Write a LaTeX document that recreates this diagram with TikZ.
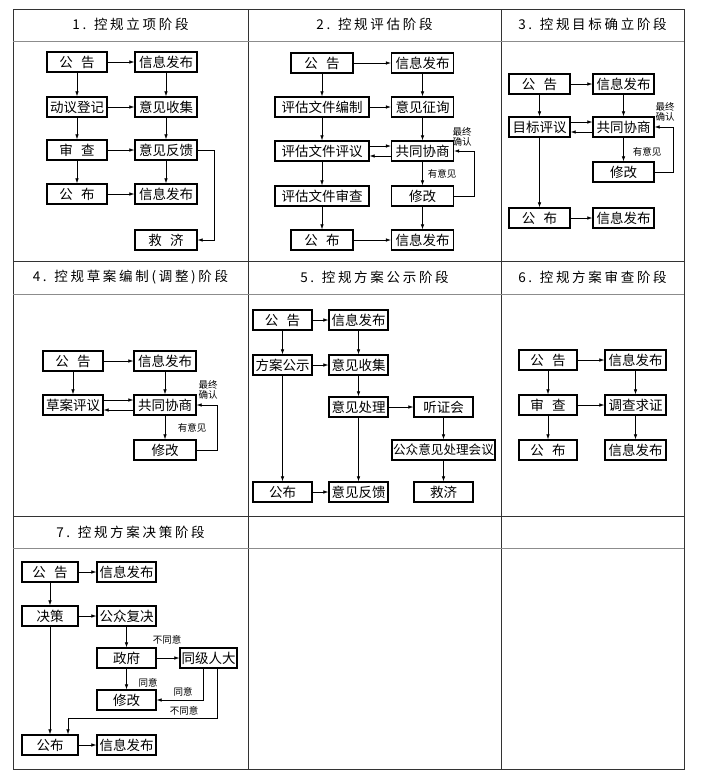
\documentclass[tikz,border=0pt]{standalone}
\usepackage{fontspec}
\setmainfont{Noto Sans CJK SC}
\newfontfamily\hdfont[LetterSpace=20]{Noto Sans CJK SC}
\usetikzlibrary{arrows.meta}
\begin{document}
\begin{tikzpicture}[x=1pt,y=-1pt,
 box/.style={draw=black, line width=1.3pt, minimum height=20pt, minimum width=61pt, inner sep=0pt, font=\fontsize{13.5}{15}\selectfont, fill=white},
 bw/.style={minimum width=#1},
 ar/.style={-{Latex[length=5pt,width=3.5pt]}, line width=0.6pt},
 lbl/.style={font=\fontsize{9.5}{10.5}\selectfont, inner sep=0pt, align=center},
 hd/.style={font=\hdfont\fontsize{13.5}{15}\selectfont},
 gridline/.style={line width=1pt, draw=black!80},
 sepline/.style={line width=0.6pt, draw=black!45}]
\useasboundingbox (0,0) rectangle (706,782);
% grid
\draw[gridline] (13,9) rectangle (684,769);
\draw[gridline] (248,9) -- (248,769);
\draw[gridline] (501,9) -- (501,769);
\draw[gridline] (13,261) -- (684,261);
\draw[gridline] (13,516) -- (684,516);
\draw[sepline] (13,41) -- (684,41);
\draw[sepline] (13,294) -- (684,294);
\draw[sepline] (13,548) -- (684,548);
% headers
\node[hd] (h1) at (130.5,24) {1. 控规立项阶段};
\node[hd] (h2) at (374.5,24) {2. 控规评估阶段};
\node[hd] (h3) at (592.5,24) {3. 控规目标确立阶段};
\node[hd] (h4) at (130.5,277.5) {4. 控规草案编制(调整)阶段};
\node[hd] (h5) at (374.5,277.5) {5. 控规方案公示阶段};
\node[hd] (h6) at (592.5,277.5) {6. 控规方案审查阶段};
\node[hd] (h7) at (130.5,532) {7. 控规方案决策阶段};

% panel 1
\node[box,bw=60pt] (p1a) at (77,62) {公\hspace{0.6em}告};
\node[box,bw=62pt] (p1b) at (166,62) {信息发布};
\node[box,bw=60pt] (p1c) at (77,107) {动议登记};
\node[box,bw=62pt] (p1d) at (166,107) {意见收集};
\node[box,bw=60pt] (p1e) at (77,150) {审\hspace{0.6em}查};
\node[box,bw=62pt] (p1f) at (166,150) {意见反馈};
\node[box,bw=60pt] (p1g) at (77,194) {公\hspace{0.6em}布};
\node[box,bw=62pt] (p1h) at (166,194) {信息发布};
\node[box,bw=62pt] (p1i) at (166,240) {救\hspace{0.6em}济};
\draw[ar] (p1a) -- (p1b);
\draw[ar] (p1a) -- (p1c);
\draw[ar] (p1b) -- (p1d);
\draw[ar] (p1c) -- (p1d);
\draw[ar] (p1c) -- (p1e);
\draw[ar] (p1d) -- (p1f);
\draw[ar] (p1e) -- (p1f);
\draw[ar] (p1e) -- (p1g);
\draw[ar] (p1f) -- (p1h);
\draw[ar] (p1g) -- (p1h);
\draw[ar] (p1f.east) -- ++(17,0) |- (p1i.east);

% panel 2
\node[box,bw=62pt] (q1) at (322,63) {公\hspace{0.6em}告};
\node[box,bw=62pt] (q2) at (422.5,63) {信息发布};
\node[box,bw=94pt] (q3) at (322,107) {评估文件编制};
\node[box,bw=62pt] (q4) at (422.5,107) {意见征询};
\node[box,bw=94pt] (q5) at (322,151) {评估文件评议};
\node[box,bw=62pt] (q6) at (422.5,151) {共同协商};
\node[box,bw=94pt] (q7) at (322,196) {评估文件审查};
\node[box,bw=62pt] (q8) at (422.5,196) {修改};
\node[box,bw=62pt] (q9) at (322,240) {公\hspace{0.6em}布};
\node[box,bw=62pt] (q10) at (422.5,240) {信息发布};
\draw[ar] (q1) -- (q2);
\draw[ar] (q1) -- (q3);
\draw[ar] (q2) -- (q4);
\draw[ar] (q3) -- (q4);
\draw[ar] (q3) -- (q5);
\draw[ar] (q4) -- (q6);
\draw[ar] ([yshift=5pt]q5.east) -- ([yshift=5pt]q6.west);
\draw[ar] ([yshift=-5pt]q6.west) -- ([yshift=-5pt]q5.east);
\draw[ar] (q5) -- (q7);
\draw[ar] (q6) -- (q8);
\draw[ar] (q7) -- (q9);
\draw[ar] (q8) -- (q10);
\draw[ar] (q9) -- (q10);
\draw[ar] (q8.east) -- ++(20,0) |- (q6.east);
\node[lbl] (q11) at (442,174) {有意见};
\node[lbl] (q12) at (462,137) {最终\\确认};

% panel 3
\node[box,bw=61pt] (r1) at (539.5,84) {公\hspace{0.6em}告};
\node[box,bw=61pt] (r2) at (623.5,84) {信息发布};
\node[box,bw=61pt] (r3) at (539.5,127) {目标评议};
\node[box,bw=61pt] (r4) at (623.5,127) {共同协商};
\node[box,bw=61pt] (r5) at (623.5,172) {修改};
\node[box,bw=61pt] (r6) at (539.5,218) {公\hspace{0.6em}布};
\node[box,bw=61pt] (r7) at (623.5,218) {信息发布};
\draw[ar] (r1) -- (r2);
\draw[ar] (r1) -- (r3);
\draw[ar] (r2) -- (r4);
\draw[ar] ([yshift=5pt]r3.east) -- ([yshift=5pt]r4.west);
\draw[ar] ([yshift=-5pt]r4.west) -- ([yshift=-5pt]r3.east);
\draw[ar] (r4) -- (r5);
\draw[ar] (r5.east) -- ++(19,0) |- (r4.east);
\draw[ar] (r3) -- (r6);
\draw[ar] (r6) -- (r7);
\node[lbl] (r8) at (647,152) {有意见};
\node[lbl] (r9) at (665,112) {最终\\确认};

% panel 4
\node[box,bw=60pt] (s1) at (73,361) {公\hspace{0.6em}告};
\node[box,bw=62pt] (s2) at (165,361) {信息发布};
\node[box,bw=60pt] (s3) at (73,405) {草案评议};
\node[box,bw=62pt] (s4) at (165,405) {共同协商};
\node[box,bw=62pt] (s5) at (165,450) {修改};
\draw[ar] (s1) -- (s2);
\draw[ar] (s1) -- (s3);
\draw[ar] (s2) -- (s4);
\draw[ar] ([yshift=5pt]s3.east) -- ([yshift=5pt]s4.west);
\draw[ar] ([yshift=-5pt]s4.west) -- ([yshift=-5pt]s3.east);
\draw[ar] (s4) -- (s5);
\draw[ar] (s5.east) -- ++(21,0) |- (s4.east);
\node[lbl] (s6) at (192,428) {有意见};
\node[lbl] (s7) at (208,390) {最终\\确认};

% panel 5
\node[box,bw=59pt] (t1) at (282.5,320) {公\hspace{0.6em}告};
\node[box,bw=59pt] (t2) at (358.5,320) {信息发布};
\node[box,bw=59pt] (t3) at (282.5,365) {方案公示};
\node[box,bw=59pt] (t4) at (358.5,365) {意见收集};
\node[box,bw=59pt] (t5) at (358.5,407) {意见处理};
\node[box,bw=59pt] (t6) at (443.5,407) {听证会};
\node[box,bw=103pt,font=\fontsize{12.6}{14}\selectfont] (t7) at (443.5,450) {公众意见处理会议};
\node[box,bw=59pt] (t8) at (282.5,492) {公布};
\node[box,bw=59pt] (t9) at (358.5,492) {意见反馈};
\node[box,bw=59pt] (t10) at (443.5,492) {救济};
\draw[ar] (t1) -- (t2);
\draw[ar] (t1) -- (t3);
\draw[ar] (t2) -- (t4);
\draw[ar] (t3) -- (t4);
\draw[ar] (t4) -- (t5);
\draw[ar] (t5) -- (t6);
\draw[ar] (t6) -- (t7);
\draw[ar] (t7) -- (t10);
\draw[ar] (t5) -- (t9);
\draw[ar] (t3) -- (t8);
\draw[ar] (t8) -- (t9);

% panel 6
\node[box,bw=58pt] (u1) at (548,360) {公\hspace{0.6em}告};
\node[box,bw=61pt] (u2) at (635.5,360) {信息发布};
\node[box,bw=58pt] (u3) at (548,405) {审\hspace{0.6em}查};
\node[box,bw=61pt] (u4) at (635.5,405) {调查求证};
\node[box,bw=58pt] (u5) at (548,450) {公\hspace{0.6em}布};
\node[box,bw=61pt] (u6) at (635.5,450) {信息发布};
\draw[ar] (u1) -- (u2);
\draw[ar] (u1) -- (u3);
\draw[ar] (u2) -- (u4);
\draw[ar] (u3) -- (u4);
\draw[ar] (u3) -- (u5);
\draw[ar] (u4) -- (u6);

% panel 7
\node[box,bw=56pt] (v1) at (50,572) {公\hspace{0.6em}告};
\node[box,bw=59pt] (v2) at (126.5,572) {信息发布};
\node[box,bw=56pt] (v3) at (50,616) {决策};
\node[box,bw=59pt] (v4) at (126.5,616) {公众复决};
\node[box,bw=59pt] (v5) at (126.5,658) {政府};
\node[box,bw=57pt] (v6) at (208.5,658) {同级人大};
\node[box,bw=59pt] (v7) at (126.5,700) {修改};
\node[box,bw=56pt] (v8) at (50,745) {公布};
\node[box,bw=59pt] (v9) at (126.5,745) {信息发布};
\coordinate (v6b) at (217,718);
\draw[ar] (v1) -- (v2);
\draw[ar] (v1) -- (v3);
\draw[ar] (v3) -- (v4);
\draw[ar] (v4) -- (v5);
\draw[ar] (v5) -- (v6);
\draw[ar] (v5) -- (v7);
\draw[ar] ([xshift=-5.5pt]v6.south) |- (v7.east);
\draw[ar] ([xshift=8.5pt]v6.south) -- (v6b) -| ([xshift=18pt]v8.north);
\draw[ar] (v3) -- (v8);
\draw[ar] (v8) -- (v9);
\node[lbl] (v10) at (167,640) {不同意};
\node[lbl] (v11) at (148,683) {同意};
\node[lbl] (v12) at (183,692) {同意};
\node[lbl] (v13) at (184,711) {不同意};
\end{tikzpicture}
\end{document}
